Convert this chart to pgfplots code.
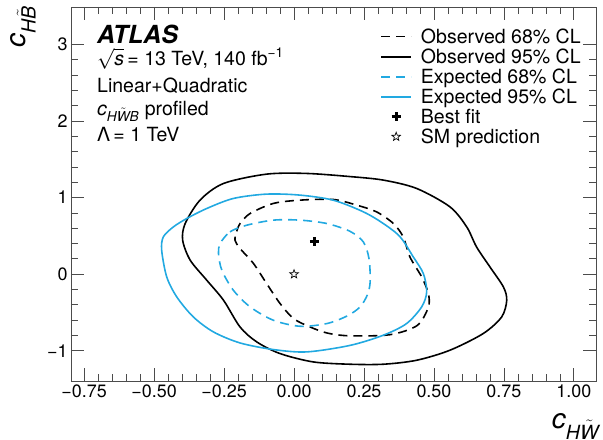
\documentclass[border=0pt]{standalone}
\usepackage{fontspec}
\setmainfont{TeX Gyre Heros}
\usepackage{amsmath}
\usepackage{pgfplots}
\pgfplotsset{compat=1.18}
\definecolor{atlasblue}{HTML}{22A9E1}
\newcommand{\vit}[1]{\text{\itshape #1}}

% open five-pointed star for the SM point
\pgfdeclareplotmark{ostar}{%
  \pgfpathmoveto{\pgfpointpolar{90}{\pgfplotmarksize}}%
  \pgfpathlineto{\pgfpointpolar{126}{0.42\pgfplotmarksize}}%
  \pgfpathlineto{\pgfpointpolar{162}{\pgfplotmarksize}}%
  \pgfpathlineto{\pgfpointpolar{198}{0.42\pgfplotmarksize}}%
  \pgfpathlineto{\pgfpointpolar{234}{\pgfplotmarksize}}%
  \pgfpathlineto{\pgfpointpolar{270}{0.42\pgfplotmarksize}}%
  \pgfpathlineto{\pgfpointpolar{306}{\pgfplotmarksize}}%
  \pgfpathlineto{\pgfpointpolar{342}{0.42\pgfplotmarksize}}%
  \pgfpathlineto{\pgfpointpolar{18}{\pgfplotmarksize}}%
  \pgfpathlineto{\pgfpointpolar{54}{0.42\pgfplotmarksize}}%
  \pgfpathclose\pgfusepathqstroke}

\pgfplotsset{
  cl legend/.style={legend image code/.code={\draw[##1] (0bp,0bp) -- (30bp,0bp);}},
  pt legend/.style={legend image code/.code={%
    \draw[mark repeat=2,mark phase=2,##1] plot coordinates {(0bp,0bp) (15bp,0bp) (30bp,0bp)};}},
}

\begin{document}
\begin{tikzpicture}
\begin{axis}[
  name=ax,
  scale only axis, width=525bp, height=374bp,
  xmin=-0.797, xmax=1.079, ymin=-1.395, ymax=3.49,
  xtick={-0.75,-0.5,-0.25,0,0.25,0.5,0.75,1},
  xticklabels={−0.75,−0.50,−0.25,0.00,0.25,0.50,0.75,1.00},
  ytick={-1,0,1,2,3}, yticklabels={−1,0,1,2,3},
  minor x tick num=4, minor y tick num=4,
  major tick length=13bp, minor tick length=7bp,
  tick align=inside,
  tick style={black!70, line width=0.8pt},
  axis line style={black!70, line width=0.8pt},
  ticklabel style={font=\fontsize{18}{22}\selectfont},
  xlabel={{\itshape c}$_{\vit{H}\tilde{\vit{W}}}$},
  ylabel={{\itshape c}$_{\vit{H}\tilde{\vit{B}}}$},
  label style={font=\fontsize{28}{32}\selectfont, inner sep=0pt},
  xlabel style={at={(axis description cs:1.006,-0.122)}, anchor=east},
  ylabel style={at={(axis description cs:-0.0914,1.004)}, anchor=east},
  legend style={at={(axis description cs:0.975,0.948)}, anchor=north east,
    draw=none, fill=none, font=\fontsize{19.6}{23}\selectfont,
    row sep=0pt, inner sep=0pt,
    /tikz/every odd column/.append style={column sep=7bp}},
  legend cell align=left,
]
% observed 68% CL
\addplot[black, line width=1.6pt, dash pattern=on 9bp off 6bp, smooth cycle, cl legend] coordinates {
  (-0.211,0.444) (-0.205,0.56) (-0.193,0.662) (-0.157,0.793) (-0.074,0.924)
  (0.021,0.967) (0.14,0.976) (0.224,0.902) (0.295,0.814) (0.355,0.662)
  (0.39,0.488) (0.414,0.226) (0.456,-0.035) (0.48,-0.253) (0.48,-0.43)
  (0.44,-0.67) (0.343,-0.79) (0.2,-0.805) (0.12,-0.77) (0.057,-0.689)
  (-0.002,-0.579) (-0.05,-0.383) (-0.098,-0.122) (-0.145,0.14) (-0.193,0.336)};
\addlegendentry{Observed 68\% CL}
% observed 95% CL
\addplot[black, line width=1.6pt, smooth cycle, cl legend] coordinates {
  (-0.252,1.185) (-0.098,1.307) (0.045,1.316) (0.2,1.275) (0.319,1.229)
  (0.438,1.12) (0.557,0.88) (0.617,0.618) (0.652,0.357) (0.7,0.095)
  (0.748,-0.166) (0.76,-0.34) (0.742,-0.558) (0.676,-0.775) (0.557,-0.993)
  (0.438,-1.124) (0.319,-1.176) (0.2,-1.176) (0.069,-1.146) (-0.05,-1.037)
  (-0.133,-0.885) (-0.193,-0.689) (-0.252,-0.34) (-0.312,-0.078) (-0.371,0.183)
  (-0.398,0.444) (-0.389,0.662) (-0.336,0.967)};
\addlegendentry{Observed 95\% CL}
% expected 68% CL
\addplot[atlasblue, line width=1.6pt, dash pattern=on 9bp off 6bp, smooth cycle, cl legend] coordinates {
  (-0.264,0.401) (-0.229,0.553) (-0.169,0.64) (-0.074,0.706) (0.021,0.706)
  (0.117,0.662) (0.2,0.56) (0.248,0.42) (0.268,0.2) (0.272,-0.1)
  (0.262,-0.27) (0.236,-0.427) (0.19,-0.545) (0.117,-0.645) (0.021,-0.68)
  (-0.074,-0.601) (-0.157,-0.427) (-0.217,-0.209) (-0.258,0.052) (-0.27,0.27)};
\addlegendentry{Expected 68\% CL}
% expected 95% CL
\addplot[atlasblue, line width=1.6pt, smooth cycle, cl legend] coordinates {
  (-0.467,0.488) (-0.431,0.618) (-0.383,0.728) (-0.312,0.858) (-0.217,0.989)
  (-0.098,1.046) (0.021,1.033) (0.14,0.967) (0.248,0.814) (0.319,0.662)
  (0.379,0.488) (0.426,0.226) (0.462,0.009) (0.474,-0.231) (0.456,-0.427)
  (0.402,-0.645) (0.319,-0.797) (0.2,-0.93) (0.045,-1.015) (-0.074,-0.984)
  (-0.193,-0.898) (-0.288,-0.754) (-0.36,-0.558) (-0.419,-0.297) (-0.455,-0.035)
  (-0.473,0.314)};
\addlegendentry{Expected 95\% CL}
% best fit and SM
\addplot[black, only marks, mark=+, mark size=4.5bp, line width=3pt, pt legend]
  coordinates {(0.0725,0.43)};
\addlegendentry{Best fit}
\addplot[black, only marks, mark=ostar, mark size=4.5bp, line width=0.7pt, pt legend]
  coordinates {(0,0)};
\addlegendentry{SM prediction}

\node[anchor=west, inner sep=0pt] at (axis description cs:0.0495,0.928)
  {\fontsize{25}{30}\selectfont\bfseries\itshape ATLAS};
\node[anchor=west, inner sep=0pt, font=\fontsize{19.6}{23}\selectfont] at (axis description cs:0.0495,0.861)
  {$\sqrt{\vit{s}}$\,= 13 TeV, 140 fb\textsuperscript{−1}};
\node[anchor=west, inner sep=0pt, font=\fontsize{19.6}{23}\selectfont] at (axis description cs:0.0495,0.789)
  {Linear+Quadratic};
\node[anchor=west, inner sep=0pt, font=\fontsize{19.6}{23}\selectfont] at (axis description cs:0.0495,0.722)
  {{\itshape c}$_{\vit{H}\tilde{\vit{W}}\vit{B}}$ profiled};
\node[anchor=west, inner sep=0pt, font=\fontsize{19.6}{23}\selectfont] at (axis description cs:0.0495,0.658)
  {Λ\,= 1 TeV};
\end{axis}
\pgfresetboundingbox
\path[use as bounding box] ([shift={(-71bp,-59bp)}]ax.south west) rectangle ([shift={(7bp,7bp)}]ax.north east);
\end{tikzpicture}
\end{document}
